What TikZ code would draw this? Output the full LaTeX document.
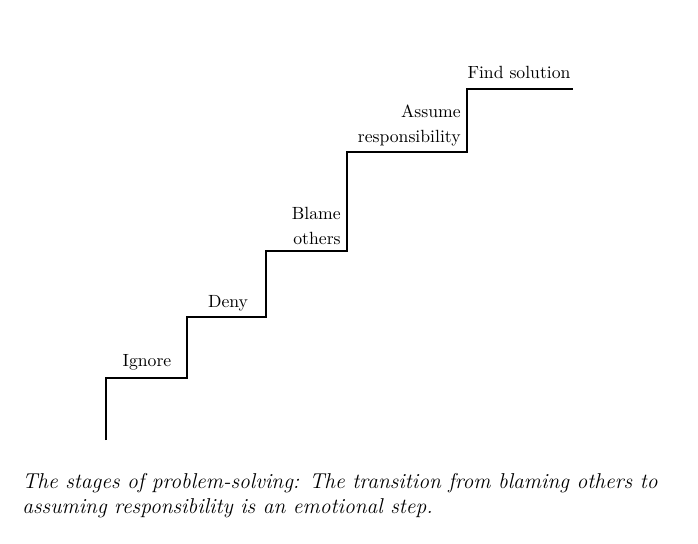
\documentclass[tikz,border=0pt]{standalone}
\usepackage{xcolor}
\usepackage{tikz}

\begin{document}
\begin{tikzpicture}[x=0.6pt,y=-0.6pt]
% Styles
\tikzstyle{marche}=[line width=1.3pt,line join=miter]
\tikzstyle{etape}=[inner sep=0pt,font=\fontsize{10.6}{15}\selectfont]
\tikzstyle{legende}=[inner sep=0pt,anchor=base west,align=left,font=\fontsize{12.9}{15}\selectfont\itshape]
% Cadre
\useasboundingbox (0,0) rectangle (698,543);
% Coins de l'escalier
\coordinate (P0) at (106,440);
\coordinate (P1) at (106,378);
\coordinate (P2) at (187,378);
\coordinate (P3) at (187,317);
\coordinate (P4) at (266,317);
\coordinate (P5) at (266,251);
\coordinate (P6) at (347,251);
\coordinate (P7) at (347,152);
\coordinate (P8) at (467,152);
\coordinate (P9) at (467,89);
\coordinate (P10) at (573,89);
% Escalier
\draw[marche] (P0)--(P1)--(P2)--(P3)--(P4)--(P5)--(P6)--(P7)--(P8)--(P9)--(P10);
% Etapes
\node[etape,anchor=base] (Ignore) at (147,366) {Ignore};
\node[etape,anchor=base] (Deny) at (228,307) {Deny};
\node[etape,anchor=base east,align=right] (Blame) at (341,244) {Blame\\others};
\node[etape,anchor=base east,align=right] (Assume) at (461,142) {Assume\\responsibility};
\node[etape,anchor=base] (Find) at (519,78) {Find solution};
% Legende
\node[legende] (Legende) at (22,513) {The stages of problem-solving: The transition from blaming others to\\assuming responsibility is an emotional step.};
\end{tikzpicture}
\end{document}
